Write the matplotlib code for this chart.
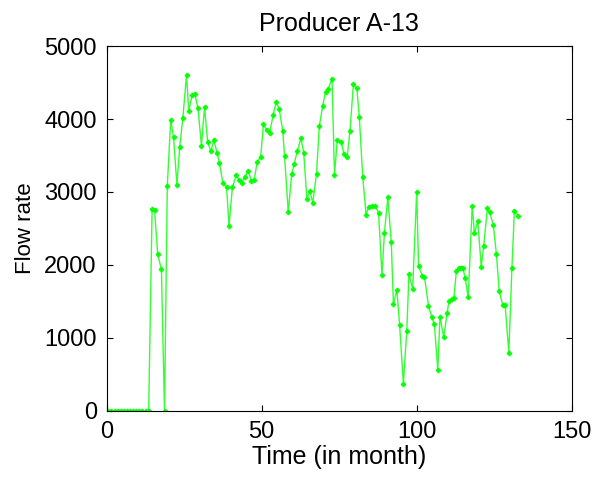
import matplotlib
matplotlib.use("Agg")
import matplotlib.pyplot as plt

plt.rcParams['font.family'] = ['Liberation Sans', 'DejaVu Sans']

title = "Producer A-13"
x_label = "Time (in month)"
y_label = "Flow rate"

time_month = [
    0.6, 1.6, 2.6, 3.6, 4.6, 5.6, 6.6, 7.6, 8.6, 9.6, 10.6, 11.6, 12.6, 13.6,
    14.7, 15.5, 16.5, 17.7, 18.7, 19.6, 20.7, 21.6, 22.7, 23.6, 24.6, 25.8,
    26.5, 27.6, 28.5, 29.5, 30.6, 31.6, 32.6, 33.6, 34.6, 35.7, 36.4, 37.5,
    38.7, 39.5, 40.6, 41.8, 42.7, 43.6, 44.6, 45.7, 46.7, 47.6, 48.6, 49.7,
    50.6, 51.6, 52.6, 53.7, 54.7, 55.7, 56.8, 57.4, 58.6, 59.7, 60.5, 61.5,
    62.7, 63.6, 64.6, 65.5, 66.5, 67.7, 68.6, 69.7, 70.6, 71.4, 72.7, 73.5,
    74.4, 75.7, 76.5, 77.6, 78.5, 79.6, 80.7, 81.5, 82.6, 83.7, 84.5, 85.6,
    86.6, 87.7, 88.8, 89.6, 90.7, 91.8, 92.5, 93.6, 94.5, 95.7, 96.8, 97.5,
    98.7, 100.0, 100.6, 101.8, 102.5, 103.8, 104.8, 105.7, 106.8, 107.5,
    108.7, 109.8, 110.4, 111.3, 112.0, 112.8, 113.5, 114.2, 114.9, 115.6,
    116.6, 117.9, 118.6, 119.7, 120.8, 121.6, 122.8, 123.5, 124.7, 125.7,
    126.6, 127.7, 128.5, 129.7, 130.7, 131.5, 132.8,
]

flow_rate = [
    0, 0, 0, 0, 0, 0, 0, 0, 0, 0, 0, 0, 0, 0,
    2763, 2750, 2146, 1941, 0, 3087, 3986, 3750, 3100, 3621, 4009, 4603,
    4110, 4325, 4342, 4146, 3634, 4165, 3689, 3557, 3712, 3530, 3395, 3130,
    3070, 2537, 3068, 3228, 3165, 3130, 3210, 3290, 3155, 3164, 3415, 3484,
    3932, 3849, 3812, 4050, 4237, 4133, 3840, 3493, 2722, 3247, 3379, 3562,
    3736, 3530, 2904, 3018, 2853, 3247, 3900, 4178, 4374, 4410, 4550, 3233,
    3712, 3689, 3521, 3484, 3840, 4479, 4420, 4032, 3210, 2685, 2799, 2813,
    2813, 2717, 1868, 2440, 2930, 2308, 1462, 1662, 1172, 375, 1092, 1872,
    1671, 3005, 1990, 1853, 1840, 1443, 1292, 1187, 562, 1292,
    1009, 1338, 1511, 1534, 1543, 1922, 1955, 1963, 1960, 1826,
    1558, 2813, 2434, 2600, 1977, 2260, 2777, 2725, 2548, 2147,
    1640, 1457, 1452, 799, 1965, 2744, 2675,
]

x_ticks = [0, 50, 100, 150]
y_ticks = [0, 1000, 2000, 3000, 4000, 5000]

fig = plt.figure(figsize=(5.95, 4.8), dpi=100)
ax = fig.add_axes([0.179, 0.144, 0.782, 0.760])

ax.plot(time_month, flow_rate, color='#33ff33', lw=1.0, marker='P',
        markersize=3.5, markerfacecolor='#00ff00', markeredgecolor='#00ff00',
        markeredgewidth=0.4)

ax.set_xlim(0, 150)
ax.set_ylim(0, 5000)
ax.set_xticks(x_ticks)
ax.set_yticks(y_ticks)
ax.tick_params(direction='in', top=True, right=True, length=4, width=0.8,
               labelsize=17, pad=7)
for s in ax.spines.values():
    s.set_linewidth(0.8)
    s.set_color('black')

ax.set_title(title, fontsize=18, pad=11)
ax.set_xlabel(x_label, fontsize=18, labelpad=2)
ax.set_ylabel(y_label, fontsize=16, labelpad=6)

fig.savefig("out.png", dpi=100)
